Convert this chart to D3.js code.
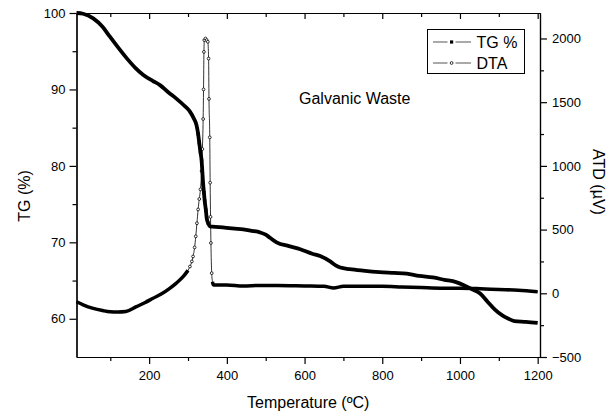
<!DOCTYPE html>
<html>
<head>
<meta charset="utf-8">
<script src="https://cdnjs.cloudflare.com/ajax/libs/d3/7.8.5/d3.min.js"></script>
<style>
  body { margin: 0; background: #fff; }
  svg { display: block; font-family: "Liberation Sans", Arial, sans-serif; }
</style>
</head>
<body>
<div id="chart"></div>
<script>
// TG curve (left axis, %)
const tgTemp = [13, 30, 56, 80, 99, 120, 142, 165, 185, 210, 227, 250, 270, 290, 305, 315, 322, 326, 329, 332,
    335, 337, 339, 341, 343, 346, 348, 352, 356, 380, 399, 420, 442, 465, 485, 500, 511, 528, 560, 589,
    620, 640, 666, 680, 692, 716, 750, 793, 830, 863, 895, 930, 960, 990, 1010, 1030, 1052, 1070, 1090, 1110,
    1125, 1140, 1170, 1200];
const tgValue = [100, 99.9, 99.3, 98.2, 96.9, 95.5, 94.1, 92.8, 91.9, 91.1, 90.6, 89.6, 88.8, 87.9, 87.1, 86.2, 85.3, 84.2, 83.0, 81.8,
    80.7, 79.2, 77.6, 76.5, 75.4, 74.2, 73.2, 72.5, 72.1, 72.0, 71.9, 71.8, 71.7, 71.5, 71.3, 71.0, 70.6, 70.0, 69.5, 69.1,
    68.5, 68.2, 67.5, 67.0, 66.7, 66.5, 66.3, 66.1, 66.0, 65.9, 65.6, 65.4, 65.1, 64.8, 64.4, 63.9, 63.3, 62.3, 61.2, 60.4,
    60.0, 59.7, 59.6, 59.45];

// DTA curve (right axis, µV)
const dtaTemp = [13, 30, 56, 80, 99, 120, 140, 167, 190, 210, 230, 253, 270, 288, 300, 305, 310, 313, 317, 320,
    323, 326, 329, 332, 335, 337, 339, 340, 341, 342, 345, 348, 351, 353, 354, 356, 357, 358, 359, 361,
    363, 365, 400, 442, 485, 530, 600, 650, 675, 700, 750, 800, 850, 900, 950, 1000, 1052, 1100, 1150, 1200];
const dtaValue = [-66, -90, -118, -135, -145, -147, -143, -105, -72, -39, -8, 39, 80, 132, 180, 210, 250, 289, 360, 447,
    550, 658, 740, 816, 960, 1132, 1368, 1600, 1895, 1987, 2000, 1987, 1974, 1842, 1526, 1224, 868, 600, 395, 158,
    90, 66, 66, 58, 62, 62, 58, 55, 42, 55, 55, 55, 50, 45, 40, 40, 36, 30, 24, 13];

// range where the markers are spread apart (thin line with visible markers)
const peakRange = [300, 363];

const xMajor = [200, 400, 600, 800, 1000, 1200];
const xMinor = [100, 300, 500, 700, 900, 1100];
const tgMajor = [60, 70, 80, 90, 100];
const tgMinor = [65, 75, 85, 95];
const dtaMajor = [-500, 0, 500, 1000, 1500, 2000];
const dtaMinor = [-250, 250, 750, 1250, 1750];

const W = 610, H = 416;
const margin = {left: 76.5, right: 540, top: 13, bottom: 357};

const svg = d3.select("#chart").append("svg")
    .attr("width", W)
    .attr("height", H);

svg.append("rect").attr("width", W).attr("height", H).attr("fill", "#fff");

const x = d3.scaleLinear().domain([13, 1206]).range([margin.left, margin.right]);
const yL = d3.scaleLinear().domain([55, 100]).range([margin.bottom, margin.top]);
const yR = d3.scaleLinear().domain([-500, 2200]).range([margin.bottom, margin.top]);

const tg = tgTemp.map((t, i) => ({t: t, v: tgValue[i]}));
const dta = dtaTemp.map((t, i) => ({t: t, v: dtaValue[i]}));

const fmt = d3.format("d");

// axes
function styleAxis(g) {
    g.selectAll("path, line").attr("stroke", "#000").attr("stroke-width", 1.2);
    g.selectAll("text").attr("fill", "#000").style("font-size", "13px")
        .style("font-family", "'Liberation Sans', Arial, sans-serif");
}

svg.append("g").attr("transform", `translate(0,${margin.bottom})`)
    .call(d3.axisBottom(x).tickValues(xMajor).tickFormat(fmt).tickSize(7).tickSizeOuter(0).tickPadding(7))
    .call(styleAxis);
svg.append("g").attr("transform", `translate(0,${margin.bottom})`)
    .call(d3.axisBottom(x).tickValues(xMinor).tickSize(4).tickSizeOuter(0).tickFormat(""))
    .call(styleAxis);

svg.append("g").attr("transform", `translate(0,${margin.top})`)
    .call(d3.axisTop(x).tickValues(xMajor).tickSize(-6).tickSizeOuter(0).tickFormat(""))
    .call(styleAxis);
svg.append("g").attr("transform", `translate(0,${margin.top})`)
    .call(d3.axisTop(x).tickValues(xMinor).tickSize(-4).tickSizeOuter(0).tickFormat(""))
    .call(styleAxis);

svg.append("g").attr("transform", `translate(${margin.left},0)`)
    .call(d3.axisLeft(yL).tickValues(tgMajor).tickFormat(fmt).tickSize(7).tickSizeOuter(0).tickPadding(4))
    .call(styleAxis);
svg.append("g").attr("transform", `translate(${margin.left},0)`)
    .call(d3.axisLeft(yL).tickValues(tgMinor).tickSize(4).tickSizeOuter(0).tickFormat(""))
    .call(styleAxis);

svg.append("g").attr("transform", `translate(${margin.right},0)`)
    .call(d3.axisRight(yR).tickValues(dtaMajor).tickFormat(fmt).tickSize(7).tickSizeOuter(0).tickPadding(5))
    .call(styleAxis);
svg.append("g").attr("transform", `translate(${margin.right},0)`)
    .call(d3.axisRight(yR).tickValues(dtaMinor).tickSize(4).tickSizeOuter(0).tickFormat(""))
    .call(styleAxis);

// curves
const tgLine = d3.line().x(d => x(d.t)).y(d => yL(d.v)).curve(d3.curveMonotoneX);
const dtaLine = d3.line().x(d => x(d.t)).y(d => yR(d.v)).curve(d3.curveMonotoneX);

const inPeak = d => d.t > peakRange[0] && d.t < peakRange[1];

// DTA: thin line + open circles in the peak, thick elsewhere (dense markers)
svg.append("path")
    .datum(dta)
    .attr("d", dtaLine)
    .attr("fill", "none")
    .attr("stroke", "#000")
    .attr("stroke-width", 0.8);

svg.append("path")
    .datum(dta.filter(d => d.t <= peakRange[0]))
    .attr("d", dtaLine)
    .attr("fill", "none")
    .attr("stroke", "#000")
    .attr("stroke-width", 3.5);
svg.append("path")
    .datum(dta.filter(d => d.t >= peakRange[1]))
    .attr("d", dtaLine)
    .attr("fill", "none")
    .attr("stroke", "#000")
    .attr("stroke-width", 3.5);

svg.append("g").selectAll("circle")
    .data(dta.filter(inPeak))
    .enter()
    .append("circle")
    .attr("cx", d => x(d.t))
    .attr("cy", d => yR(d.v))
    .attr("r", 1.4)
    .attr("fill", "#fff")
    .attr("stroke", "#000")
    .attr("stroke-width", 0.8);

// TG: thick line, squares visible on the steep drop
svg.append("path")
    .datum(tg)
    .attr("d", tgLine)
    .attr("fill", "none")
    .attr("stroke", "#000")
    .attr("stroke-width", 3.8)
    .attr("stroke-linejoin", "round");

svg.append("g").selectAll("rect")
    .data(tg.filter(d => d.t > 325 && d.t < 356))
    .enter()
    .append("rect")
    .attr("x", d => x(d.t) - 1.6)
    .attr("y", d => yL(d.v) - 1.6)
    .attr("width", 3.2)
    .attr("height", 3.2)
    .attr("fill", "#000");

// titles and labels
svg.append("text")
    .attr("x", (margin.left + margin.right) / 2)
    .attr("y", 408)
    .attr("text-anchor", "middle")
    .style("font-size", "16px")
    .text("Temperature (ºC)");

svg.append("text")
    .attr("transform", "rotate(-90)")
    .attr("x", -196)
    .attr("y", 30)
    .attr("text-anchor", "middle")
    .style("font-size", "16px")
    .text("TG (%)");

svg.append("text")
    .attr("transform", "rotate(90)")
    .attr("x", 182)
    .attr("y", -593)
    .attr("text-anchor", "middle")
    .style("font-size", "16px")
    .text("ATD (µV)");

svg.append("text")
    .attr("x", 299)
    .attr("y", 104)
    .style("font-size", "16px")
    .text("Galvanic Waste");

// legend
const legend = svg.append("g");
legend.append("rect")
    .attr("x", 427.5).attr("y", 29.5)
    .attr("width", 97).attr("height", 44)
    .attr("fill", "#fff")
    .attr("stroke", "#000")
    .attr("stroke-width", 1);

const legendRows = [
    {name: "TG %", y: 42, marker: "square"},
    {name: "DTA", y: 63, marker: "circle"}
];
legendRows.forEach(r => {
    [[433, 447.5], [455.5, 471]].forEach(seg => {
        legend.append("line")
            .attr("x1", seg[0]).attr("x2", seg[1])
            .attr("y1", r.y).attr("y2", r.y)
            .attr("stroke", "#555").attr("stroke-width", 1);
    });
    if (r.marker === "square") {
        legend.append("rect")
            .attr("x", 450).attr("y", r.y - 1.6)
            .attr("width", 3.2).attr("height", 3.2)
            .attr("fill", "#000");
    } else {
        legend.append("circle")
            .attr("cx", 451.6).attr("cy", r.y)
            .attr("r", 1.4)
            .attr("fill", "#fff").attr("stroke", "#000").attr("stroke-width", 0.8);
    }
    legend.append("text")
        .attr("x", 476.5)
        .attr("y", r.y + 6)
        .style("font-size", "16px")
        .text(r.name);
});
</script>
</body>
</html>
